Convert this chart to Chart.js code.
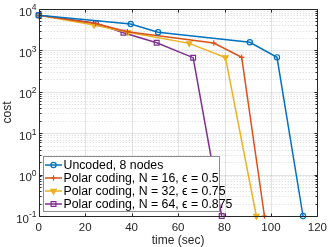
<!DOCTYPE html>
<html>
<head>
<meta charset="utf-8">
<script src="https://cdn.jsdelivr.net/npm/chart.js@4.4.1/dist/chart.umd.min.js"></script>
<style>
  html, body { margin: 0; padding: 0; background: #fff; }
</style>
</head>
<body>
<canvas id="costChart" width="332" height="247"></canvas>
<script>
// values: time (sec) vs cost
const uncodedTime = [0, 39.6, 51.4, 90.9, 102.6, 113.8];
const uncodedCost = [7050, 4350, 2735, 1570, 680, 0.1];

const polar16Time = [0, 24.5, 38.2, 75.4, 87.4, 97.2];
const polar16Cost = [7050, 4470, 2830, 1510, 680, 0.1];

const polar32Time = [0, 23.8, 38.4, 64.8, 80.4, 93.7];
const polar32Cost = [7050, 4110, 2735, 1480, 675, 0.1];

const polar64Time = [0, 24.6, 36.5, 50.8, 66.5, 78.8];
const polar64Cost = [7050, 4500, 2675, 1535, 667, 0.1];

const seriesLabels = [
  'Uncoded, 8 nodes',
  'Polar coding, N = 16, \u03f5 = 0.5',
  'Polar coding, N = 32, \u03f5 = 0.75',
  'Polar coding, N = 64, \u03f5 = 0.875'
];

const xTickValues = [0, 20, 40, 60, 80, 100, 120];
const yDecades = [-1, 0, 1, 2, 3, 4];

const FONT = '"Liberation Sans", Arial, sans-serif';
const INK = '#262626';

function toPoints(t, c) {
  return t.map((v, i) => ({ x: v, y: c[i] }));
}

function series(label, t, c, color, style, filled, rotation, radius) {
  return {
    label: label,
    data: toPoints(t, c),
    borderColor: color,
    backgroundColor: filled ? color : 'rgba(255,255,255,0)',
    pointStyle: style,
    pointRotation: rotation,
    pointRadius: radius,
    pointBorderWidth: 1.2,
    pointBorderColor: color,
    pointBackgroundColor: filled ? color : 'rgba(255,255,255,0)',
    borderWidth: 1.5,
    tension: 0,
    fill: false,
    clip: false
  };
}

// draws a marker in the legend the same way the dataset does
function legendMarker(ctx, ds, x, y) {
  ctx.save();
  ctx.strokeStyle = ds.borderColor;
  ctx.fillStyle = ds.pointBackgroundColor;
  ctx.lineWidth = 1.2;
  const r = ds.pointRadius;
  ctx.beginPath();
  if (ds.pointStyle === 'circle') {
    ctx.arc(x, y, r, 0, Math.PI * 2);
  } else if (ds.pointStyle === 'cross') {
    ctx.moveTo(x - r, y); ctx.lineTo(x + r, y);
    ctx.moveTo(x, y - r); ctx.lineTo(x, y + r);
  } else if (ds.pointStyle === 'rect') {
    const s = r * Math.SQRT1_2;
    ctx.rect(x - s, y - s, 2 * s, 2 * s);
  } else if (ds.pointStyle === 'triangle') {
    const w = r * Math.sqrt(3);
    ctx.moveTo(x - w / 2, y - r / 2);
    ctx.lineTo(x + w / 2, y - r / 2);
    ctx.lineTo(x, y + r);
    ctx.closePath();
  }
  ctx.fill();
  ctx.stroke();
  ctx.restore();
}

const frame = {
  id: 'frame',
  beforeDatasetsDraw(chart) {
    const { ctx, chartArea: a, scales: { x, y } } = chart;
    ctx.save();
    ctx.lineWidth = 1;
    // minor log grid, dotted
    ctx.strokeStyle = 'rgba(38,38,38,0.18)';
    ctx.setLineDash([1, 2]);
    ctx.beginPath();
    yDecades.forEach(e => {
      if (e === 4) return;
      for (let m = 2; m <= 9; m++) {
        const py = Math.round(y.getPixelForValue(m * Math.pow(10, e))) + 0.5;
        ctx.moveTo(a.left, py); ctx.lineTo(a.right, py);
      }
    });
    ctx.stroke();
    // major grid
    ctx.setLineDash([]);
    ctx.strokeStyle = 'rgba(38,38,38,0.13)';
    ctx.beginPath();
    yDecades.forEach(e => {
      const py = Math.round(y.getPixelForValue(Math.pow(10, e))) + 0.5;
      ctx.moveTo(a.left, py); ctx.lineTo(a.right, py);
    });
    xTickValues.forEach(v => {
      const px = Math.round(x.getPixelForValue(v)) + 0.5;
      ctx.moveTo(px, a.top); ctx.lineTo(px, a.bottom);
    });
    ctx.stroke();
    ctx.restore();
  },
  afterDraw(chart) {
    const { ctx, chartArea: a, scales: { x, y } } = chart;
    ctx.save();
    // axes box and inward ticks
    ctx.strokeStyle = INK;
    ctx.lineWidth = 1;
    const L = Math.round(a.left) + 0.5, R = Math.round(a.right) + 0.5;
    const T = Math.round(a.top) + 0.5, B = Math.round(a.bottom) + 0.5;
    ctx.beginPath();
    ctx.rect(L, T, R - L, B - T);
    xTickValues.forEach(v => {
      const px = Math.round(x.getPixelForValue(v)) + 0.5;
      ctx.moveTo(px, B); ctx.lineTo(px, B - 3);
      ctx.moveTo(px, T); ctx.lineTo(px, T + 3);
    });
    yDecades.forEach(e => {
      const py = Math.round(y.getPixelForValue(Math.pow(10, e))) + 0.5;
      ctx.moveTo(L, py); ctx.lineTo(L + 3, py);
      ctx.moveTo(R, py); ctx.lineTo(R - 3, py);
      if (e === 4) return;
      for (let m = 2; m <= 9; m++) {
        const pm = Math.round(y.getPixelForValue(m * Math.pow(10, e))) + 0.5;
        ctx.moveTo(L, pm); ctx.lineTo(L + 2, pm);
        ctx.moveTo(R, pm); ctx.lineTo(R - 2, pm);
      }
    });
    ctx.stroke();

    // y tick labels with superscript exponents
    ctx.fillStyle = INK;
    ctx.textBaseline = 'middle';
    ctx.textAlign = 'right';
    yDecades.forEach(e => {
      const py = y.getPixelForValue(Math.pow(10, e));
      ctx.font = '8.5px ' + FONT;
      const ex = String(e);
      const w = ctx.measureText(ex).width;
      ctx.fillText(ex, 36.5, py - 1);
      ctx.font = '11.5px ' + FONT;
      ctx.fillText('10', 36.5 - w, py + 3.5);
    });

    // axis titles
    ctx.textAlign = 'center';
    ctx.font = '12px ' + FONT;
    ctx.fillText('time (sec)', (a.left + a.right) / 2, 240.5);
    ctx.save();
    ctx.translate(8, (a.top + a.bottom) / 2);
    ctx.rotate(-Math.PI / 2);
    ctx.fillText('cost', 0, 0);
    ctx.restore();

    // legend box inside the axes
    const bx = 43.5, by = 156.5, bw = 176, bh = 55;
    ctx.fillStyle = '#fff';
    ctx.fillRect(bx, by, bw, bh);
    ctx.strokeStyle = '#8c8c8c';
    ctx.lineWidth = 1;
    ctx.strokeRect(bx, by, bw, bh);
    ctx.textAlign = 'left';
    ctx.font = '12.3px ' + FONT;
    chart.data.datasets.forEach((ds, i) => {
      const ly = 165 + i * 13;
      ctx.strokeStyle = ds.borderColor;
      ctx.lineWidth = 1.5;
      ctx.beginPath();
      ctx.moveTo(45, ly); ctx.lineTo(62, ly);
      ctx.stroke();
      legendMarker(ctx, ds, 53.5, ly);
      ctx.fillStyle = '#000';
      ctx.fillText(ds.label, 63.5, ly + 0.5);
    });
    ctx.restore();
  }
};

new Chart(document.getElementById('costChart'), {
  type: 'line',
  data: {
    datasets: [
      series(seriesLabels[0], uncodedTime, uncodedCost, '#0072BD', 'circle', false, 0, 2.6),
      series(seriesLabels[1], polar16Time, polar16Cost, '#D95319', 'cross', false, 0, 2.8),
      series(seriesLabels[2], polar32Time, polar32Cost, '#EDB120', 'triangle', true, 180, 3.2),
      series(seriesLabels[3], polar64Time, polar64Cost, '#7E2F8E', 'rect', false, 0, 3.4)
    ]
  },
  options: {
    responsive: false,
    animation: false,
    devicePixelRatio: 1,
    layout: { padding: { top: 9, right: 10, left: 0, bottom: 0 } },
    plugins: { legend: { display: false }, tooltip: { enabled: false } },
    scales: {
      x: {
        type: 'linear',
        min: 0,
        max: 120,
        afterBuildTicks: s => { s.ticks = xTickValues.map(v => ({ value: v })); },
        afterFit: s => { s.height = 31; },
        grid: { display: false, drawTicks: false },
        border: { display: false },
        ticks: { color: INK, padding: 5, maxRotation: 0, font: { family: FONT, size: 11.5 } }
      },
      y: {
        type: 'logarithmic',
        min: 0.1,
        max: 10000,
        afterFit: s => { s.width = 38.7; },
        grid: { display: false, drawTicks: false },
        border: { display: false },
        ticks: { display: false }
      }
    }
  },
  plugins: [frame]
});
</script>
</body>
</html>
